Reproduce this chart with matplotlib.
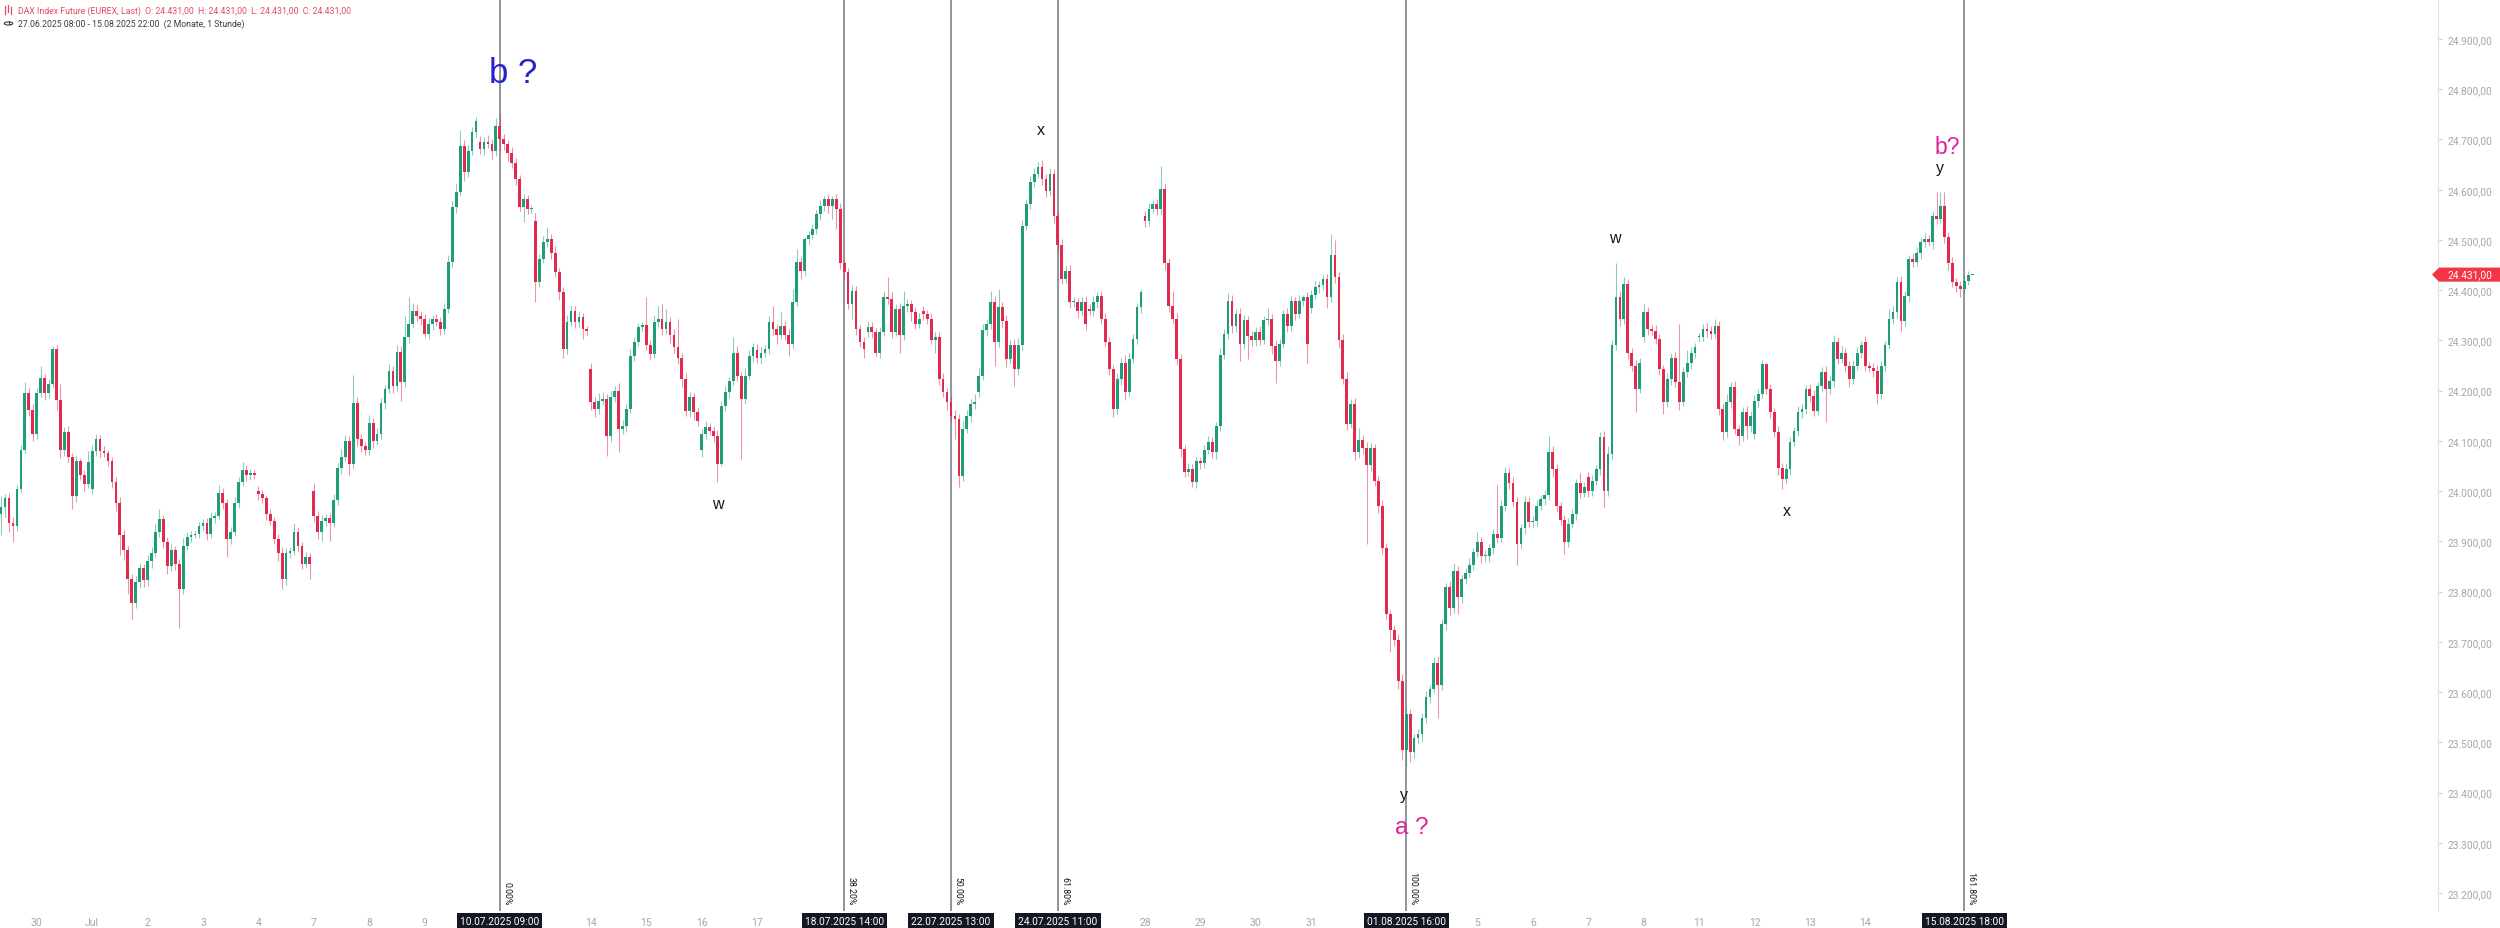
import numpy as np
import matplotlib
matplotlib.use("Agg")
import matplotlib.pyplot as plt
import matplotlib.transforms as mtransforms
from matplotlib.patches import Polygon, Circle
from matplotlib.lines import Line2D
from matplotlib.colors import to_rgba

# ---------------- data (hourly bars, bar 0 = 27.06.2025 08:00, 14 bars per day) ----------------
FIRST_BAR = 5
BARS_PER_DAY = 14
FIRST_OPEN = 23955

CLOSES = [
    [23969, 23986, 23937, 23930, 24004, 24082, 24196, 24161, 24114],
    [24196, 24225, 24196, 24214, 24282, 24182, 24082, 24118, 24068, 23990, 24061, 24033, 24015, 24058],
    [24079, 24104, 24079, 24075, 24061, 24018, 23976, 23912, 23883, 23826, 23777, 23819, 23848, 23823],
    [23862, 23876, 23919, 23944, 23898, 23851, 23883, 23855, 23805, 23891, 23908, 23912, 23915, 23930],
    [23937, 23915, 23947, 23951, 23997, 23976, 23905, 23919, 23976, 24018, 24043, 24033, 24036, 24033],
    [23994, 23986, 23954, 23940, 23905, 23876, 23826, 23876, 23880, 23919, 23890, 23855, 23869, 23855],
    [23951, 23919, 23940, 23947, 23937, 23983, 24047, 24068, 24100, 24054, 24175, 24104, 24090, 24082],
    [24136, 24100, 24114, 24175, 24203, 24239, 24210, 24278, 24217, 24306, 24333, 24359, 24349, 24343],
    [24313, 24333, 24343, 24336, 24323, 24363, 24456, 24565, 24595, 24688, 24635, 24678, 24714, 24737],
    [24681, 24694, 24691, 24678, 24727, 24701, 24691, 24674, 24654, 24621, 24565, 24581, 24562, 24563],
    [24416, 24462, 24495, 24502, 24475, 24436, 24396, 24283, 24336, 24359, 24336, 24346, 24323, 24319],
    [24177, 24164, 24180, 24183, 24110, 24187, 24200, 24124, 24130, 24163, 24270, 24296, 24326, 24331],
    [24290, 24273, 24336, 24343, 24323, 24336, 24310, 24286, 24266, 24223, 24160, 24187, 24157, 24140],
    [24114, 24127, 24120, 24110, 24054, 24170, 24197, 24220, 24276, 24230, 24183, 24230, 24270, 24286],
    [24266, 24276, 24283, 24336, 24323, 24310, 24329, 24310, 24293, 24376, 24456, 24439, 24502, 24509],
    [24522, 24552, 24568, 24582, 24568, 24582, 24562, 24455, 24436, 24373, 24399, 24323, 24296, 24283],
    [24326, 24316, 24276, 24316, 24386, 24382, 24316, 24363, 24310, 24369, 24373, 24356, 24333, 24343],
    [24353, 24343, 24300, 24306, 24223, 24197, 24177, 24150, 24144, 24031, 24124, 24150, 24173, 24177],
    [24230, 24320, 24333, 24376, 24296, 24366, 24339, 24263, 24290, 24243, 24290, 24528, 24572, 24615],
    [24631, 24645, 24621, 24598, 24631, 24548, 24489, 24422, 24439, 24376, 24376, 24359, 24376, 24333],
    [24359, 24376, 24389, 24343, 24296, 24243, 24164, 24223, 24256, 24197, 24263, 24303, 24366, 24396],
    [24538, 24562, 24572, 24562, 24601, 24455, 24369, 24343, 24263, 24084, 24038, 24044, 24018, 24061],
    [24057, 24081, 24097, 24077, 24130, 24272, 24313, 24378, 24329, 24353, 24292, 24341, 24309, 24300],
    [24317, 24300, 24341, 24342, 24288, 24260, 24292, 24353, 24329, 24378, 24353, 24378, 24386, 24292],
    [24390, 24406, 24410, 24422, 24386, 24471, 24426, 24300, 24223, 24134, 24174, 24077, 24101, 24085],
    [24053, 24085, 24020, 23971, 23886, 23756, 23724, 23703, 23622, 23484, 23557, 23480, 23508, 23516],
    [23549, 23590, 23606, 23659, 23614, 23736, 23809, 23768, 23841, 23789, 23825, 23837, 23854, 23878],
    [23898, 23870, 23870, 23886, 23915, 23907, 23971, 24036, 24016, 23979, 23894, 23927, 23979, 23939],
    [23940, 23971, 23984, 23992, 24077, 24044, 23971, 23943, 23898, 23935, 23955, 24016, 23996, 24008],
    [24000, 24020, 24044, 24107, 24001, 24074, 24290, 24386, 24343, 24412, 24276, 24250, 24203, 24256],
    [24356, 24323, 24319, 24303, 24243, 24177, 24223, 24266, 24217, 24177, 24237, 24256, 24276, 24286],
    [24306, 24323, 24319, 24313, 24329, 24164, 24117, 24177, 24207, 24124, 24110, 24157, 24130, 24150],
    [24180, 24193, 24253, 24203, 24157, 24117, 24047, 24024, 24044, 24097, 24120, 24157, 24164, 24203],
    [24190, 24160, 24210, 24237, 24203, 24220, 24296, 24263, 24276, 24250, 24223, 24250, 24276, 24290],
    [24250, 24246, 24240, 24193, 24250, 24290, 24343, 24356, 24416, 24339, 24389, 24462, 24456, 24475],
    [24495, 24502, 24495, 24548, 24542, 24568, 24505, 24455, 24416, 24409, 24402, 24419, 24431, 24431],
]

UPPER_WICK = [
    [21, 8, 10, 12, 8, 10, 22, 10, 12],
    [10, 25, 8, 10, 7, 8, 32, 10, 12, 8, 10, 6, 10, 21],
    [12, 10, 8, 10, 6, 8, 10, 12, 10, 8, 10, 12, 10, 8],
    [10, 12, 15, 21, 8, 10, 12, 8, 10, 15, 10, 8, 6, 8],
    [8, 10, 12, 8, 15, 10, 8, 10, 12, 10, 15, 10, 8, 6],
    [10, 8, 6, 10, 8, 10, 12, 10, 8, 18, 10, 8, 10, 8],
    [15, 10, 12, 8, 10, 12, 10, 15, 12, 10, 57, 12, 10, 8],
    [15, 10, 12, 10, 8, 15, 10, 12, 10, 43, 53, 15, 12, 10],
    [10, 12, 8, 10, 10, 12, 15, 12, 18, 30, 10, 12, 10, 7],
    [12, 10, 14, 10, 15, 24, 10, 8, 12, 10, 8, 10, 8, 6],
    [15, 10, 12, 23, 10, 12, 8, 10, 15, 12, 10, 12, 8, 6],
    [12, 10, 15, 14, 10, 12, 10, 15, 12, 10, 12, 10, 8, 6],
    [56, 10, 15, 26, 29, 27, 10, 12, 57, 10, 12, 10, 8, 10],
    [10, 12, 8, 10, 12, 10, 12, 8, 30, 12, 10, 15, 10, 8],
    [12, 10, 8, 13, 33, 10, 27, 10, 12, 26, 26, 10, 3, 8],
    [10, 8, 12, 6, 10, 6, 10, 12, 10, 8, 12, 10, 8, 10],
    [12, 10, 8, 10, 12, 40, 14, 10, 12, 30, 10, 8, 10, 12],
    [10, 8, 12, 10, 10, 12, 8, 10, 12, 10, 15, 12, 10, 16],
    [15, 12, 10, 23, 12, 36, 10, 12, 10, 12, 15, 12, 10, 12],
    [12, 10, 15, 10, 12, 10, 8, 12, 10, 12, 10, 8, 10, 12],
    [10, 12, 8, 10, 12, 10, 8, 12, 10, 15, 12, 10, 8, 6],
    [10, 12, 8, 10, 47, 12, 10, 30, 12, 10, 8, 12, 10, 8],
    [8, 10, 12, 10, 8, 12, 10, 16, 12, 10, 12, 10, 8, 10],
    [10, 12, 8, 23, 10, 12, 10, 8, 12, 10, 8, 12, 4, 10],
    [10, 12, 8, 8, 10, 41, 28, 10, 12, 15, 10, 12, 25, 10],
    [12, 10, 8, 10, 12, 10, 8, 10, 12, 15, 12, 10, 8, 10],
    [10, 12, 8, 10, 12, 10, 8, 12, 17, 10, 8, 10, 12, 8],
    [21, 10, 12, 8, 10, 97, 12, 13, 10, 12, 10, 8, 12, 10],
    [10, 12, 8, 10, 33, 12, 10, 8, 10, 12, 10, 8, 20, 10],
    [10, 12, 8, 10, 12, 15, 10, 69, 12, 14, 10, 8, 12, 10],
    [16, 10, 8, 12, 10, 8, 12, 10, 12, 116, 10, 24, 10, 8],
    [8, 10, 12, 10, 14, 10, 12, 16, 10, 12, 8, 10, 12, 10],
    [12, 10, 8, 3, 10, 8, 12, 10, 12, 10, 8, 12, 10, 8],
    [10, 12, 8, 10, 12, 10, 14, 10, 12, 8, 10, 12, 10, 8],
    [12, 8, 10, 12, 10, 8, 20, 12, 10, 12, 10, 8, 12, 10],
    [10, 12, 8, 10, 47, 27, 27, 10, 12, 8, 10, 12, 8, 0],
]

LOWER_WICK = [
    [43, 21, 18, 32, 10, 8, 6, 12, 14],
    [10, 8, 15, 10, 8, 20, 15, 12, 10, 25, 12, 10, 15, 8],
    [10, 8, 12, 6, 10, 12, 15, 39, 20, 31, 32, 10, 12, 14],
    [12, 15, 8, 10, 12, 15, 10, 12, 78, 10, 8, 10, 6, 8],
    [10, 12, 8, 10, 6, 12, 36, 10, 8, 10, 8, 12, 10, 8],
    [12, 10, 12, 8, 10, 15, 21, 12, 10, 8, 12, 10, 8, 30],
    [12, 15, 18, 10, 36, 8, 10, 12, 8, 21, 10, 15, 12, 10],
    [10, 15, 8, 10, 12, 8, 15, 10, 37, 10, 12, 8, 10, 12],
    [7, 10, 12, 8, 12, 10, 8, 10, 12, 8, 17, 10, 8, 10],
    [10, 12, 8, 17, 10, 23, 12, 16, 10, 12, 7, 30, 10, 8],
    [40, 10, 8, 10, 12, 10, 15, 17, 10, 8, 12, 10, 20, 8],
    [15, 17, 10, 8, 39, 12, 10, 47, 10, 12, 8, 10, 8, 10],
    [10, 12, 8, 10, 12, 10, 15, 10, 12, 15, 10, 12, 15, 10],
    [12, 10, 8, 12, 36, 3, 10, 12, 8, 10, 119, 10, 8, 10],
    [10, 12, 8, 10, 12, 17, 8, 10, 23, 10, 8, 17, 10, 12],
    [8, 10, 12, 10, 15, 26, 40, 12, 14, 10, 30, 12, 10, 17],
    [10, 12, 6, 10, 8, 10, 12, 8, 34, 10, 12, 17, 10, 8],
    [12, 10, 8, 24, 12, 10, 15, 12, 40, 23, 10, 8, 12, 10],
    [10, 8, 12, 10, 46, 10, 12, 15, 10, 33, 12, 10, 8, 10],
    [10, 8, 12, 13, 10, 15, 12, 10, 8, 12, 10, 15, 10, 12],
    [8, 10, 12, 10, 8, 12, 17, 10, 12, 15, 10, 8, 10, 12],
    [13, 10, 8, 12, 10, 15, 12, 10, 12, 15, 10, 8, 10, 12],
    [12, 10, 8, 10, 12, 10, 8, 10, 15, 12, 32, 10, 45, 12],
    [12, 10, 8, 10, 15, 45, 10, 8, 12, 10, 12, 8, 10, 36],
    [10, 8, 12, 10, 21, 10, 12, 15, 10, 12, 8, 15, 10, 12],
    [159, 12, 10, 15, 12, 10, 45, 12, 15, 20, 33, 20, 12, 10],
    [16, 10, 12, 8, 65, 10, 12, 15, 10, 33, 12, 10, 8, 10],
    [10, 12, 8, 10, 12, 10, 8, 10, 12, 8, 40, 10, 12, 10],
    [12, 10, 8, 12, 10, 15, 12, 10, 24, 10, 8, 12, 10, 8],
    [12, 10, 8, 12, 33, 10, 12, 10, 15, 10, 12, 10, 46, 8],
    [10, 12, 8, 10, 12, 23, 10, 12, 10, 15, 8, 10, 12, 10],
    [10, 8, 12, 10, 8, 12, 15, 10, 12, 10, 19, 10, 26, 12],
    [10, 12, 8, 10, 12, 10, 15, 20, 10, 12, 8, 10, 12, 10],
    [12, 10, 8, 12, 66, 10, 12, 10, 8, 12, 15, 10, 8, 10],
    [10, 8, 12, 20, 10, 12, 8, 10, 12, 20, 10, 12, 10, 8],
    [12, 10, 8, 12, 10, 8, 12, 15, 10, 12, 16, 10, 8, 0],
]

# opening prices of bars that gapped away from the previous close
GAP_BARS = [28, 70, 84, 126, 140, 154, 182, 196, 224, 238, 252, 280, 294, 336, 406, 420, 434, 448, 476]
GAP_OPENS = [24004, 24001, 24001, 24694, 24538, 24243, 24081, 24280, 24316, 24359, 24197, 24363, 24548,
             24365, 24028, 24306, 24306, 24114, 24296]

DAY_TICK_INDEX = [1, 2, 3, 4, 5, 6, 7, 8, 11, 12, 13, 14, 21, 22, 23, 24, 27, 28, 29, 30, 31, 32, 33, 34]
DAY_TICK_LABEL = ["30", "Jul", "2", "3", "4", "7", "8", "9", "14", "15", "16", "17",
                  "28", "29", "30", "31", "5", "6", "7", "8", "11", "12", "13", "14"]

FIB_BARS = [131, 218, 245, 272, 360, 501]
FIB_PCT = ["0.00%", "38.20%", "50.00%", "61.80%", "100.00%", "161.80%"]
FIB_DATES = ["10.07.2025 09:00", "18.07.2025 14:00", "22.07.2025 13:00",
             "24.07.2025 11:00", "01.08.2025 16:00", "15.08.2025 18:00"]

PRICE_TICKS = list(range(23200, 24901, 100))
LAST_PRICE = 24431

# ---------------- build OHLC ----------------
c = np.array([v for day in CLOSES for v in day], dtype=float)
uw = np.array([v for day in UPPER_WICK for v in day], dtype=float)
lw = np.array([v for day in LOWER_WICK for v in day], dtype=float)
n = len(c)
x = np.arange(FIRST_BAR, FIRST_BAR + n)
o = np.empty(n)
o[0] = FIRST_OPEN
o[1:] = c[:-1]
for b, v in zip(GAP_BARS, GAP_OPENS):
    o[b - FIRST_BAR] = v
top = np.maximum(o, c)
bot = np.minimum(o, c)
hi = top + uw
lo = bot - lw
up = c >= o

UP_COL = "#1f9d79"
DN_COL = "#e02a4e"
body_cols = [UP_COL if u else DN_COL for u in up]
wick_cols = [to_rgba(UP_COL if u else DN_COL, 0.5) for u in up]

# ---------------- figure ----------------
W, H = 2500, 929
fig = plt.figure(figsize=(W / 100, H / 100), dpi=100, facecolor="white")
ax = fig.add_axes([0, (H - 912) / H, 2438 / W, 912 / H])
ax.set_facecolor("white")

for b in FIB_BARS:
    ax.axvline(b, color="#75777f", lw=1.1, zorder=1)

ax.vlines(x, lo, hi, colors=wick_cols, linewidth=0.8, zorder=2)
ax.bar(x, np.maximum(top - bot, 2.0), bottom=bot, width=0.7, color=body_cols, linewidth=0, zorder=3)

ax.set_xlim(4.72, 620.7)
ax.set_ylim(23164.4, 24979.6)

for s in ["top", "left", "bottom"]:
    ax.spines[s].set_visible(False)
ax.spines["right"].set_color("#e0e3eb")
ax.spines["right"].set_linewidth(0.9)

def de(v):
    return f"{v:,.2f}".replace(",", "#").replace(".", ",").replace("#", ".")

ax.yaxis.tick_right()
ax.set_yticks(PRICE_TICKS)
ax.set_yticklabels([de(v) for v in PRICE_TICKS], fontfamily="Roboto")
ax.tick_params(axis="y", length=3, width=0.8, color="#cfd2d9", pad=4, labelsize=7.3, labelcolor="#a3a6ae")

ax.set_xticks([BARS_PER_DAY * d for d in DAY_TICK_INDEX])
ax.set_xticklabels(DAY_TICK_LABEL, fontfamily="Roboto")
ax.tick_params(axis="x", length=0, pad=4, labelsize=7.5, labelcolor="#a3a6ae")

# fib time labels
tr_fig = mtransforms.blended_transform_factory(ax.transData, fig.transFigure)
tr_ax = mtransforms.blended_transform_factory(ax.transData, ax.transAxes)
for b, pct, dt in zip(FIB_BARS, FIB_PCT, FIB_DATES):
    ax.text(b, 1 - 922 / H, dt, transform=tr_fig, ha="center", va="center", fontsize=7.3,
            color="white", fontfamily="Roboto", clip_on=False, zorder=6,
            bbox=dict(boxstyle="square,pad=0.3", fc="#131722", ec="none"))
    ax.text(b + 0.6, 0.007, pct, transform=tr_ax, rotation=270, ha="left", va="bottom",
            fontsize=6.3, color="#131722", fontfamily="Roboto", clip_on=False, zorder=5)

# wave annotations
AF = "Liberation Sans"
ax.text(134.3, 24834, "b ?", color="#2323cf", fontsize=25, ha="center", va="center", fontfamily=AF)
ax.text(267.7, 24719, "x", color="#131722", fontsize=11.5, ha="center", va="center", fontfamily=AF)
ax.text(186.1, 23976, "w", color="#131722", fontsize=11.5, ha="center", va="center", fontfamily=AF)
ax.text(359.4, 23397, "y", color="#131722", fontsize=11.5, ha="center", va="center", fontfamily=AF)
ax.text(361.5, 23332, "a ?", color="#e0219b", fontsize=17.5, ha="center", va="center", fontfamily=AF)
ax.text(412.8, 24504, "w", color="#131722", fontsize=11.5, ha="center", va="center", fontfamily=AF)
ax.text(456.2, 23961, "x", color="#131722", fontsize=11.5, ha="center", va="center", fontfamily=AF)
ax.text(494.9, 24645, "y", color="#131722", fontsize=11.5, ha="center", va="center", fontfamily=AF)
ax.text(496.6, 24687, "b?", color="#e0219b", fontsize=16.5, ha="center", va="center", fontfamily=AF)

# last price tag
trp = mtransforms.blended_transform_factory(fig.transFigure, ax.transData)
tag = Polygon([(2432 / W, LAST_PRICE), (2439 / W, LAST_PRICE + 14), (1.0, LAST_PRICE + 14),
               (1.0, LAST_PRICE - 14), (2439 / W, LAST_PRICE - 14)], closed=True,
              transform=trp, fc="#f23645", ec="none", clip_on=False, zorder=7)
fig.add_artist(tag)
fig.text(2447 / W, LAST_PRICE, de(LAST_PRICE), transform=trp, fontsize=7.3, color="white",
         fontfamily="Roboto", ha="left", va="center", zorder=8)

# header
fig.text(17.5 / W, 1 - 11 / H,
         "DAX Index Future (EUREX, Last)  O: 24.431,00  H: 24.431,00  L: 24.431,00  C: 24.431,00",
         fontsize=6.3, color="#e34a63", fontfamily="Roboto", ha="left", va="center")
fig.text(17.5 / W, 1 - 24.5 / H, "27.06.2025 08:00 - 15.08.2025 22:00  (2 Monate, 1 Stunde)",
         fontsize=6.3, color="#3b3e45", fontfamily="Roboto", ha="left", va="center")
# small icons
for dx, y0, y1 in [(4.5, 7, 15), (7.5, 6, 13), (10.5, 8, 15)]:
    fig.add_artist(Line2D([dx / W, dx / W], [1 - y0 / H, 1 - y1 / H], transform=fig.transFigure,
                          color="#e34a63", lw=0.9))
fig.add_artist(Circle((8.5 / W, 1 - 24.5 / H), 4.2 / W, transform=fig.transFigure, fill=False,
                      ec="#3b3e45", lw=0.8))
fig.add_artist(Line2D([8.5 / W, 8.5 / W, 10.5 / W], [1 - 22 / H, 1 - 24.5 / H, 1 - 24.5 / H],
                      transform=fig.transFigure, color="#3b3e45", lw=0.7))

fig.savefig("out.png", dpi=100, facecolor="white")
